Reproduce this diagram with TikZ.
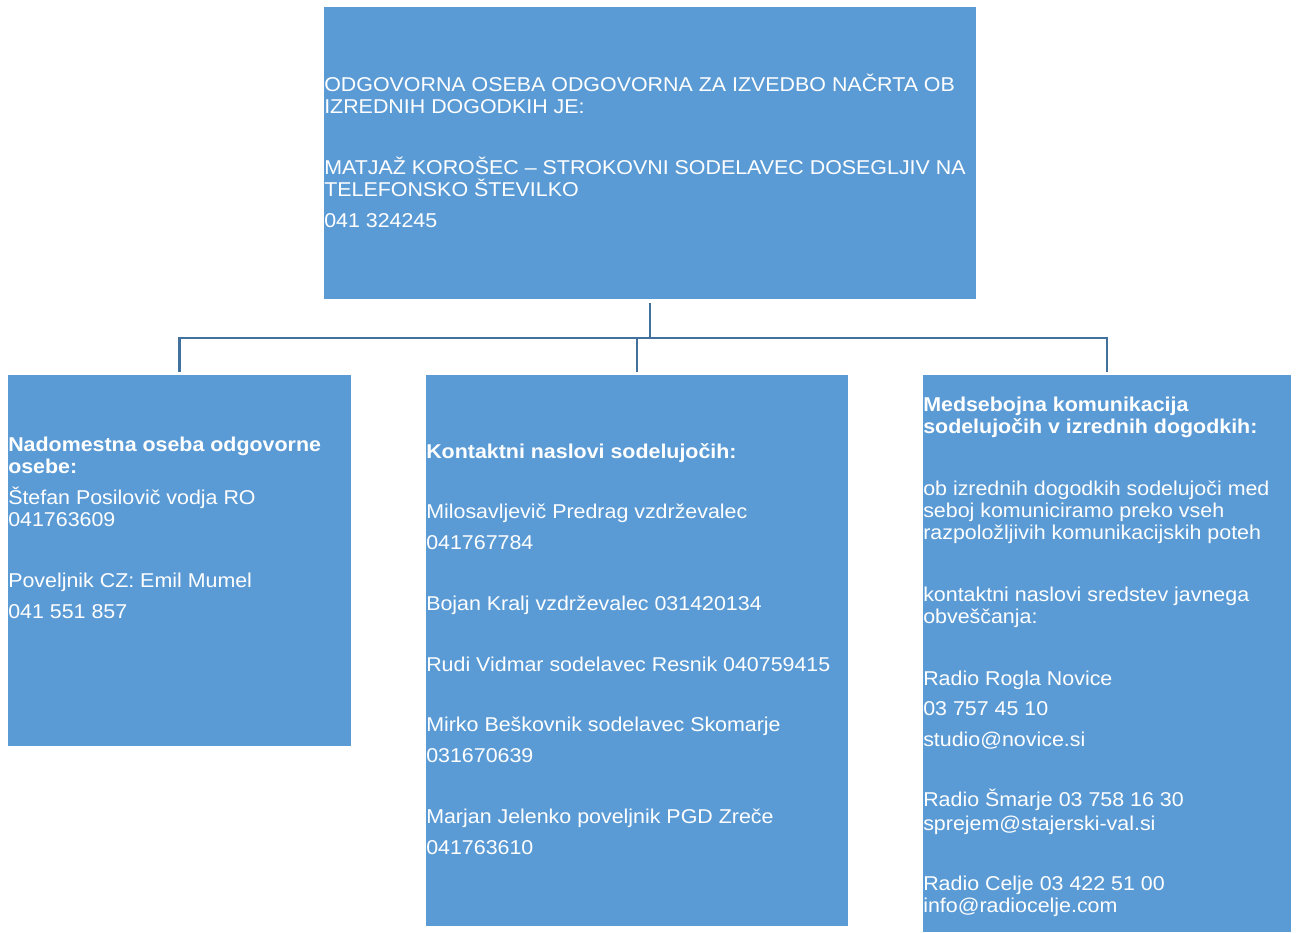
\documentclass[tikz,border=0pt]{standalone}
\usepackage{fontspec}
\setmainfont[FakeStretch=1.07]{Liberation Sans}
\usetikzlibrary{fit}

\definecolor{boxblue}{HTML}{5B9BD5}
\definecolor{lineblue}{HTML}{41719C}

\begin{document}
\begin{tikzpicture}[
    x=0.75pt, y=-0.75pt,
    box/.style={fill=boxblue, draw=none, inner sep=0pt},
    txt/.style={anchor=north west, align=left, inner sep=0pt, text=white,
        font=\fontsize{15}{16.5}\selectfont},
    conn/.style={draw=lineblue, line width=1.6pt}
]
\useasboundingbox (0,0) rectangle (1298,932);

% ========== okvirji ==========
\node[box, fit={(324,7) (976,299)}] (vodja) {};
\node[box, fit={(8,375) (351,746)}] (namestnik) {};
\node[box, fit={(426,375) (848,926)}] (kontakti) {};
\node[box, fit={(923,375) (1291,932)}] (komunikacija) {};

% ========== besedila ==========
\node[txt] (vodjaT) at (324,74) {ODGOVORNA OSEBA ODGOVORNA ZA IZVEDBO NAČRTA OB\\
    IZREDNIH DOGODKIH JE:\\[29pt]
    MATJAŽ KOROŠEC – STROKOVNI SODELAVEC DOSEGLJIV NA\\
    TELEFONSKO ŠTEVILKO\\[6.75pt]
    041 324245};

\node[txt] (namestnikT) at (8,437) {\textbf{Nadomestna oseba odgovorne}\\
    \textbf{osebe:}\\[6.75pt]
    Štefan Posilovič vodja RO\\
    041763609\\[29pt]
    Poveljnik CZ: Emil Mumel\\[6.75pt]
    041 551 857};

\node[txt] (kontaktiT) at (426,443) {\textbf{Kontaktni naslovi sodelujočih:}\\[29pt]
    Milosavljevič Predrag vzdrževalec\\[6.75pt]
    041767784\\[29pt]
    Bojan Kralj vzdrževalec 031420134\\[29pt]
    Rudi Vidmar sodelavec Resnik 040759415\\[29pt]
    Mirko Beškovnik sodelavec Skomarje\\[6.75pt]
    031670639\\[29pt]
    Marjan Jelenko poveljnik PGD Zreče\\[6.75pt]
    041763610};

\node[txt] (komunikacijaT) at (923,397) {\textbf{Medsebojna komunikacija}\\
    \textbf{sodelujočih v izrednih dogodkih:}\\[30pt]
    ob izrednih dogodkih sodelujoči med\\
    seboj komuniciramo preko vseh\\
    razpoložljivih komunikacijskih poteh\\[30pt]
    kontaktni naslovi sredstev javnega\\
    obveščanja:\\[30pt]
    Radio Rogla Novice\\[6pt]
    03 757 45 10\\[6.75pt]
    studio@novice.si\\[28.5pt]
    Radio Šmarje 03 758 16 30\\[1.5pt]
    sprejem@stajerski-val.si\\[28.5pt]
    Radio Celje 03 422 51 00\\
    info@radiocelje.com};

% ========== povezave ==========
\coordinate (vozlisce) at (650,338);
\draw[conn] ([yshift=-3pt]vodja.south) -- (vozlisce);
\draw[conn] ([yshift=2pt]namestnik.north) |- (vozlisce -| komunikacija.north)
    -- ([yshift=2pt]komunikacija.north);
\draw[conn] ([yshift=2pt]kontakti.north) -- (vozlisce -| kontakti.north);

\end{tikzpicture}
\end{document}
